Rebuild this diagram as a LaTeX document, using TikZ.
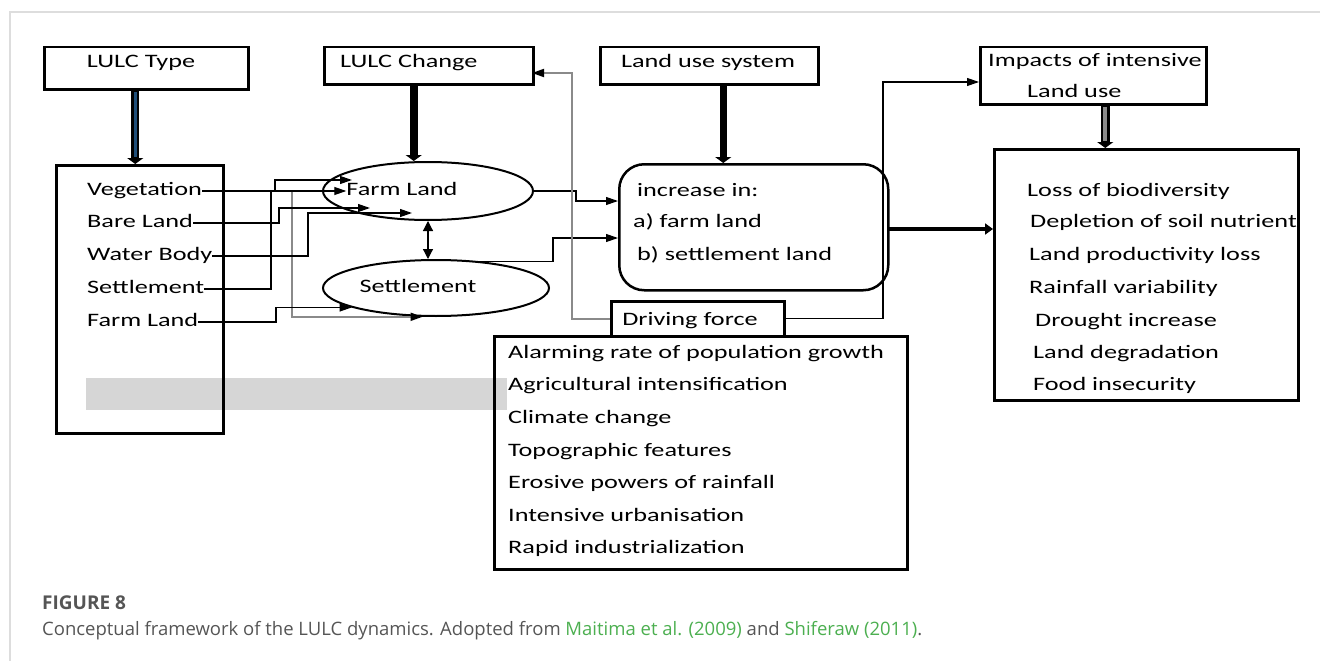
\documentclass[tikz,border=0pt]{standalone}
\usepackage{fontspec}
\setmainfont{Carlito}[FakeStretch=1.38]
\newfontfamily\capfont{Open Sans}
\usetikzlibrary{arrows.meta,shapes.geometric,calc}
\definecolor{framegray}{HTML}{DDDDDD}
\definecolor{linkgreen}{HTML}{4CAF50}
\definecolor{capgray}{HTML}{555555}
\definecolor{shaftblue}{HTML}{1F4E79}
\definecolor{conngray}{HTML}{8A8A8A}
\definecolor{hilite}{HTML}{D6D6D6}
\begin{document}
\begin{tikzpicture}[x=1pt,y=-1pt,
  box/.style={draw, line width=2.5pt, inner sep=0pt, anchor=north west},
  ell/.style={draw, ellipse, line width=2pt, inner sep=0pt},
  txt/.style={inner sep=0pt, anchor=west, text height=13pt, text depth=4pt, font=\fontsize{19}{22}\selectfont},
  ctxt/.style={txt, anchor=center},
  conn/.style={line width=1.2pt, -{Triangle[length=12pt,width=8pt]}},
  gconn/.style={line width=1.8pt, conngray, -{Triangle[length=12pt,width=8pt,color=black]}},
  fat/.style={line width=7.5pt, -{Triangle[length=6pt,width=16pt]}},
]
\useasboundingbox (0,0) rectangle (1320,661);
% frame
\draw[framegray, line width=1.5pt] (1320,12) -- (10,12) -- (10,661);
% grey highlight
\fill[hilite] (86,378) rectangle (507,410);

% boxes
\node[box, minimum width=204pt, minimum height=42pt] (typebox) at (43,46) {};
\node[ctxt] (typet) at (141,63) {LULC Type};
\node[box, minimum width=167pt, minimum height=268pt] (listbox) at (55,164) {};
\node[txt] (vegt) at (87,191) {Vegetation};
\node[txt] (baret) at (87,223) {Bare Land};
\node[txt] (watert) at (87,256) {Water Body};
\node[txt] (settt) at (87,289) {Settlement};
\node[txt] (farmt) at (87,322) {Farm Land};

\node[box, minimum width=209pt, minimum height=37pt] (changebox) at (323,46) {};
\node[txt] (changet) at (340,63) {LULC Change};

\node[ell, minimum width=210pt, minimum height=58pt] (fle) at (428,191) {};
\node[ctxt] (fltext) at (402,191) {Farm Land};
\node[ell, minimum width=226pt, minimum height=56pt] (sle) at (436,288) {};
\node[ctxt] (sltext) at (418,288) {Settlement};

\node[box, minimum width=218pt, minimum height=37pt] (landbox) at (599,46) {};
\node[ctxt] (landt) at (708,63) {Land use system};

\node[box, rounded corners=25pt, minimum width=269pt, minimum height=126pt] (roundbox) at (618,163) {};
\node[txt] (inct) at (637,192) {increase in:};
\node[txt] (inca) at (633,223) {a) farm land};
\node[txt] (incb) at (637,256) {b) settlement land};

\node[box, minimum width=173pt, minimum height=35pt] (drivebox) at (610,300) {};
\node[ctxt] (drivet) at (690,321) {Driving force};

\node[box, minimum width=413pt, minimum height=233pt] (forcebox) at (493,335) {};
\node[txt] (f1) at (508,354) {Alarming rate of population growth};
\node[txt] (f2) at (508,386) {Agricultural intensification};
\node[txt] (f3) at (508,419) {Climate change};
\node[txt] (f4) at (508,452) {Topographic features};
\node[txt] (f5) at (508,484) {Erosive powers of rainfall};
\node[txt] (f6) at (508,517) {Intensive urbanisation};
\node[txt] (f7) at (508,549) {Rapid industrialization};

\node[box, minimum width=226pt, minimum height=57pt] (impbox) at (979,46) {};
\node[txt] (impt1) at (988,62) {Impacts of intensive};
\node[txt] (impt2) at (1027,93) {Land use};

\node[txt] (i1) at (1027,192) {Loss of biodiversity};
\node[txt] (i2) at (1030,223) {Depletion of soil nutrient};
\node[txt] (i3) at (1029,256) {Land productivity loss};
\node[txt] (i4) at (1029,289) {Rainfall variability};
\node[txt] (i5) at (1035,322) {Drought increase};
\node[txt] (i6) at (1033,354) {Land degradation};
\node[txt] (i7) at (1033,386) {Food insecurity};
\node[box, minimum width=304pt, minimum height=251pt] (implist) at (993,148) {};

% named free ends
\coordinate (flbare) at (370,208);
\coordinate (flwater) at (412,213);
\coordinate (flsett) at (352,180);
\coordinate (rbin1) at (618,201);
\coordinate (rbin2) at (618,238);
\coordinate (rbout) at (887,229);
\coordinate (chin) at (532,73);
\coordinate (impin) at (979,82);
\coordinate (c292) at (292,0);
\coordinate (c276) at (276,0);

% thick vertical arrows
\draw[fat, line width=8pt] ([xshift=-11pt]typebox.south) -- ([xshift=-11pt]typebox.south |- listbox.north);
\draw[shaftblue, line width=3.5pt] ([xshift=-11pt,yshift=-1.5pt]typebox.south) -- ([xshift=-11pt,yshift=7pt]typebox.south |- listbox.north);
\draw[fat] ([xshift=-15pt]changebox.south) -- ([xshift=-15pt]changebox.south |- fle.north);
\draw[fat] ([xshift=14pt]landbox.south) -- ([xshift=14pt]landbox.south |- roundbox.north);
\draw[fat, line width=9pt] ([xshift=12pt]impbox.south) -- ([xshift=12pt]impbox.south |- implist.north);
\draw[conngray, line width=4pt] ([xshift=12pt,yshift=-1.5pt]impbox.south) -- ([xshift=12pt,yshift=7pt]impbox.south |- implist.north);

% left connectors
\draw[gconn] (vegt.east -| c292) |- (sle.245);
\draw[conn] (vegt.east) -- (vegt.east -| fltext.west);
\draw[conn] (baret.east) -| (279,208) -- (flbare);
\draw[conn] (watert.east) -| (308,213) -- (flwater);
\draw[conn] (settt.east) -| (271,191) -| (275,180) -- (flsett);
\draw[conn] (farmt.east) -| (sle.193 -| c276) -- (sle.193);
\draw[line width=1.2pt, {Triangle[length=10pt,width=10pt]}-{Triangle[length=10pt,width=10pt]}] (fle.south) -- (fle.south |- sle.north);

% to the increase box
\draw[conn] (fle.east) -| (576,201) -- (rbin1);
\draw[conn] (sle.31) -| (553,238) -- (rbin2);

% driving force links
\draw[gconn] (drivebox.west) -| (572,73) -- (chin);
\draw[conn] (drivebox.east) -| (883,82) -- (impin);
\draw[line width=3.5pt, -{Triangle[length=8pt,width=11pt]}] (rbout) -- (rbout -| implist.west);

% caption
\node[anchor=west, inner sep=0pt, text=capgray, font=\capfont\bfseries\fontsize{19}{22}\selectfont] (figlabel) at (42,603) {FIGURE 8};
\node[anchor=west, inner sep=0pt, text=capgray, font=\capfont\fontsize{18.5}{22}\selectfont] (caption) at (42,631) {Conceptual framework of the LULC dynamics. Adopted from \textcolor{linkgreen}{Maitima et al. (2009)} and \textcolor{linkgreen}{Shiferaw (2011)}.};
\end{tikzpicture}
\end{document}
